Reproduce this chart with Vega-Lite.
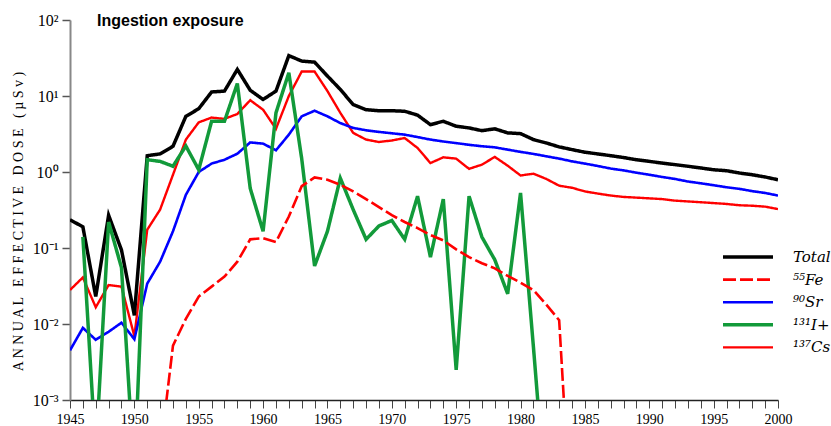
{
  "$schema": "https://vega.github.io/schema/vega-lite/v6.json",
  "autosize": "none",
  "width": 708,
  "height": 380,
  "padding": {"left": 70, "top": 20, "right": 53, "bottom": 26},
  "background": "white",
  "title": {
    "text": "Ingestion exposure",
    "anchor": "start",
    "frame": "group",
    "orient": "top",
    "font": "Liberation Sans",
    "fontSize": 16,
    "fontWeight": "bold",
    "color": "#000000",
    "dx": 27,
    "dy": 30,
    "baseline": "alphabetic",
    "offset": 0
  },
  "data": {
    "values": [
      {"year": 1945, "Total": 0.235, "Sr": 0.0045, "Cs": 0.028},
      {"year": 1946, "Total": 0.19, "Sr": 0.0089, "Cs": 0.041, "I": 0.14},
      {"year": 1947, "Total": 0.023, "Sr": 0.0062, "Cs": 0.0166, "I": 0.0002},
      {"year": 1948, "Total": 0.27, "Sr": 0.0079, "Cs": 0.0326, "I": 0.22},
      {"year": 1949, "Total": 0.094, "Sr": 0.0104, "Cs": 0.031, "I": 0.055},
      {"year": 1950, "Total": 0.013, "Sr": 0.0063, "Cs": 0.0069, "I": 0.0001},
      {"year": 1951, "Total": 1.64, "Sr": 0.034, "Cs": 0.174, "I": 1.45},
      {"year": 1952, "Total": 1.73, "Sr": 0.066, "Cs": 0.32, "I": 1.38, "Fe": 0.0002},
      {"year": 1953, "Total": 2.18, "Sr": 0.166, "Cs": 0.92, "I": 1.19, "Fe": 0.0052},
      {"year": 1954, "Total": 5.4, "Sr": 0.5, "Cs": 2.67, "I": 2.2, "Fe": 0.0117},
      {"year": 1955, "Total": 6.8, "Sr": 1.0, "Cs": 4.5, "I": 1.07, "Fe": 0.023},
      {"year": 1956, "Total": 11.3, "Sr": 1.29, "Cs": 5.2, "I": 4.65, "Fe": 0.031},
      {"year": 1957, "Total": 11.6, "Sr": 1.45, "Cs": 5.0, "I": 4.65, "Fe": 0.042},
      {"year": 1958, "Total": 22.4, "Sr": 1.74, "Cs": 5.8, "I": 14.6, "Fe": 0.066},
      {"year": 1959, "Total": 11.9, "Sr": 2.45, "Cs": 8.8, "I": 0.61, "Fe": 0.13},
      {"year": 1960, "Total": 9.0, "Sr": 2.36, "Cs": 6.6, "I": 0.166, "Fe": 0.135},
      {"year": 1961, "Total": 11.6, "Sr": 1.93, "Cs": 3.7, "I": 6.0, "Fe": 0.12},
      {"year": 1962, "Total": 34, "Sr": 3.1, "Cs": 10, "I": 20.2, "Fe": 0.26},
      {"year": 1963, "Total": 28.8, "Sr": 5.4, "Cs": 21, "I": 1.5, "Fe": 0.65},
      {"year": 1964, "Total": 27.9, "Sr": 6.4, "Cs": 21, "I": 0.058, "Fe": 0.85},
      {"year": 1965, "Total": 18.3, "Sr": 5.4, "Cs": 11.6, "I": 0.166, "Fe": 0.79},
      {"year": 1966, "Total": 12.2, "Sr": 4.4, "Cs": 6.0, "I": 0.83, "Fe": 0.68},
      {"year": 1967, "Total": 7.7, "Sr": 3.8, "Cs": 3.27, "I": 0.32, "Fe": 0.555},
      {"year": 1968, "Total": 6.6, "Sr": 3.54, "Cs": 2.67, "I": 0.13, "Fe": 0.44},
      {"year": 1969, "Total": 6.4, "Sr": 3.37, "Cs": 2.48, "I": 0.195, "Fe": 0.346},
      {"year": 1970, "Total": 6.4, "Sr": 3.23, "Cs": 2.6, "I": 0.23, "Fe": 0.27},
      {"year": 1971, "Total": 6.3, "Sr": 3.1, "Cs": 2.8, "I": 0.13, "Fe": 0.22},
      {"year": 1972, "Total": 5.6, "Sr": 2.88, "Cs": 2.07, "I": 0.48, "Fe": 0.183},
      {"year": 1973, "Total": 4.2, "Sr": 2.67, "Cs": 1.31, "I": 0.076, "Fe": 0.148},
      {"year": 1974, "Total": 4.65, "Sr": 2.52, "Cs": 1.56, "I": 0.44, "Fe": 0.126},
      {"year": 1975, "Total": 4.0, "Sr": 2.4, "Cs": 1.5, "I": 0.0025, "Fe": 0.096},
      {"year": 1976, "Total": 3.8, "Sr": 2.28, "Cs": 1.1, "I": 0.48, "Fe": 0.076},
      {"year": 1977, "Total": 3.5, "Sr": 2.18, "Cs": 1.25, "I": 0.139, "Fe": 0.063},
      {"year": 1978, "Total": 3.7, "Sr": 2.11, "Cs": 1.58, "I": 0.07, "Fe": 0.054},
      {"year": 1979, "Total": 3.27, "Sr": 1.97, "Cs": 1.21, "I": 0.025, "Fe": 0.043},
      {"year": 1980, "Total": 3.2, "Sr": 1.84, "Cs": 0.9, "I": 0.53, "Fe": 0.035},
      {"year": 1981, "Total": 2.67, "Sr": 1.73, "Cs": 0.95, "I": 0.005, "Fe": 0.028},
      {"year": 1982, "Total": 2.41, "Sr": 1.61, "Cs": 0.81, "I": 0.00004, "Fe": 0.018},
      {"year": 1983, "Total": 2.14, "Sr": 1.5, "Cs": 0.66, "Fe": 0.0112},
      {"year": 1984, "Total": 1.97, "Sr": 1.38, "Cs": 0.62, "Fe": 0.000015},
      {"year": 1985, "Total": 1.82, "Sr": 1.29, "Cs": 0.555},
      {"year": 1986, "Total": 1.73, "Sr": 1.2, "Cs": 0.52},
      {"year": 1987, "Total": 1.64, "Sr": 1.11, "Cs": 0.49},
      {"year": 1988, "Total": 1.55, "Sr": 1.05, "Cs": 0.47},
      {"year": 1989, "Total": 1.45, "Sr": 0.98, "Cs": 0.46},
      {"year": 1990, "Total": 1.38, "Sr": 0.92, "Cs": 0.45},
      {"year": 1991, "Total": 1.31, "Sr": 0.86, "Cs": 0.44},
      {"year": 1992, "Total": 1.25, "Sr": 0.81, "Cs": 0.42},
      {"year": 1993, "Total": 1.19, "Sr": 0.75, "Cs": 0.41},
      {"year": 1994, "Total": 1.13, "Sr": 0.71, "Cs": 0.4},
      {"year": 1995, "Total": 1.07, "Sr": 0.67, "Cs": 0.39},
      {"year": 1996, "Total": 1.04, "Sr": 0.63, "Cs": 0.38},
      {"year": 1997, "Total": 0.97, "Sr": 0.6, "Cs": 0.365},
      {"year": 1998, "Total": 0.92, "Sr": 0.56, "Cs": 0.36},
      {"year": 1999, "Total": 0.86, "Sr": 0.53, "Cs": 0.35},
      {"year": 2000, "Total": 0.79, "Sr": 0.49, "Cs": 0.325}
    ]
  },
  "transform": [
    {"fold": ["Cs", "Fe", "Sr", "I", "Total"], "as": ["series", "dose"]},
    {"filter": "isValid(datum.dose)"}
  ],
  "mark": {"type": "line", "clip": true, "strokeJoin": "miter", "strokeCap": "butt"},
  "encoding": {
    "x": {
      "field": "year",
      "type": "quantitative",
      "scale": {"domain": [1945, 2000], "nice": false, "zero": false},
      "axis": {
        "title": null,
        "values": [1945,1946,1947,1948,1949,1950,1951,1952,1953,1954,1955,1956,1957,1958,1959,1960,1961,1962,1963,1964,1965,1966,1967,1968,1969,1970,1971,1972,1973,1974,1975,1976,1977,1978,1979,1980,1981,1982,1983,1984,1985,1986,1987,1988,1989,1990,1991,1992,1993,1994,1995,1996,1997,1998,1999,2000],
        "labelExpr": "datum.value % 5 == 0 ? format(datum.value, 'd') : ''",
        "labelOverlap": false,
        "labelFlush": false,
        "labelBound": false,
        "grid": false,
        "domainColor": "#222222",
        "domainWidth": 1.5,
        "tickColor": "#444444",
        "tickWidth": 1,
        "tickSize": 8,
        "labelFont": "Liberation Serif",
        "labelFontSize": 14,
        "labelColor": "#000000",
        "labelPadding": 4
      }
    },
    "y": {
      "field": "dose",
      "type": "quantitative",
      "scale": {"type": "log", "domain": [0.001, 100], "nice": false},
      "axis": {
        "title": "A N N U A L \u00a0 E F F E C T I V E \u00a0 D O S E \u00a0 ( µ S v )",
        "titleFont": "Liberation Serif",
        "titleFontSize": 14,
        "titleFontWeight": "normal",
        "titleColor": "#000000",
        "titleAngle": -90,
        "titleAlign": "center",
        "titleBaseline": "middle",
        "titleX": -52,
        "titleY": 201,
        "values": [0.001, 0.01, 0.1, 1, 10, 100],
        "labelExpr": "round(log(datum.value)/LN10) == 2 ? '10²' : round(log(datum.value)/LN10) == 1 ? '10¹' : round(log(datum.value)/LN10) == 0 ? '10⁰' : round(log(datum.value)/LN10) == -1 ? '10⁻¹' : round(log(datum.value)/LN10) == -2 ? '10⁻²' : '10⁻³'",
        "grid": false,
        "domainColor": "#888888",
        "domainWidth": 2,
        "tickColor": "#555555",
        "tickWidth": 1.5,
        "tickSize": 8,
        "labelFont": "Liberation Serif",
        "labelFontSize": 16,
        "labelColor": "#000000",
        "labelPadding": 4
      }
    },
    "color": {
      "field": "series",
      "type": "nominal",
      "scale": {
        "domain": ["Total", "Fe", "Sr", "I", "Cs"],
        "range": ["#000000", "#ff0000", "#0000ff", "#129a3a", "#ff0000"]
      },
      "legend": {
        "title": null,
        "orient": "none",
        "legendX": 651,
        "legendY": 226,
        "symbolType": "stroke",
        "symbolSize": 2500,
        "clipHeight": 22,
        "rowPadding": 0.6,
        "labelOffset": 18,
        "labelFont": "DejaVu Serif",
        "labelFontStyle": "italic",
        "labelFontSize": 15,
        "labelColor": "#000000",
        "labelExpr": "datum.label == 'Fe' ? '⁵⁵Fe' : datum.label == 'Sr' ? '⁹⁰Sr' : datum.label == 'I' ? '¹³¹I+' : datum.label == 'Cs' ? '¹³⁷Cs' : datum.label"
      }
    },
    "strokeDash": {
      "field": "series",
      "type": "nominal",
      "scale": {
        "domain": ["Total", "Fe", "Sr", "I", "Cs"],
        "range": [[1, 0], [13, 4], [1, 0], [1, 0], [1, 0]]
      },
      "legend": null
    },
    "strokeWidth": {
      "field": "series",
      "type": "nominal",
      "scale": {
        "type": "ordinal",
        "domain": ["Total", "Fe", "Sr", "I", "Cs"],
        "range": [3.5, 2.6, 2.6, 3.5, 2.4]
      },
      "legend": null
    }
  },
  "config": {
    "view": {"stroke": null}
  }
}
